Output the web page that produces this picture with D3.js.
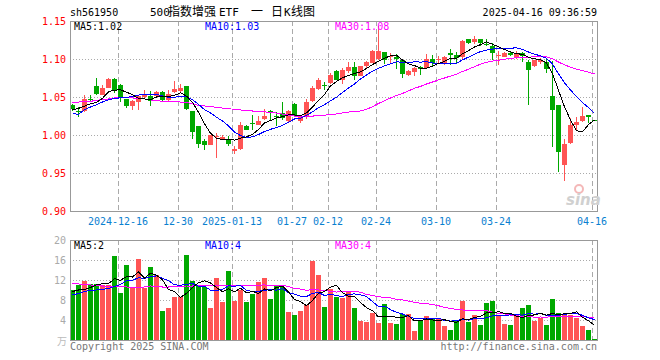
<!DOCTYPE html>
<html>
<head>
<meta charset="utf-8">
<script src="https://cdn.jsdelivr.net/npm/d3@7"></script>
<style>
  body { margin: 0; background: #fff; }
  svg text { font-family: "DejaVu Sans Mono", "Liberation Mono", monospace; font-size: 10px; }
  .cjk { font-family: "Noto Sans CJK SC", sans-serif; font-size: 12px; }
</style>
</head>
<body>
<svg id="chart" width="660" height="360"></svg>
<script>
/* ---------- data ---------- */
const dates = [
  "2024-12-04","2024-12-05","2024-12-06","2024-12-09","2024-12-10","2024-12-11","2024-12-12","2024-12-13",
  "2024-12-16","2024-12-17","2024-12-18","2024-12-19","2024-12-20","2024-12-23","2024-12-24","2024-12-25",
  "2024-12-26","2024-12-27","2024-12-30","2024-12-31",
  "2025-01-02","2025-01-03","2025-01-06","2025-01-07","2025-01-08","2025-01-09","2025-01-10","2025-01-13",
  "2025-01-14","2025-01-15","2025-01-16","2025-01-17","2025-01-20","2025-01-21","2025-01-22","2025-01-23",
  "2025-01-24","2025-01-27",
  "2025-02-05","2025-02-06","2025-02-07","2025-02-10","2025-02-11","2025-02-12","2025-02-13","2025-02-14",
  "2025-02-17","2025-02-18","2025-02-19","2025-02-20","2025-02-21","2025-02-24","2025-02-25","2025-02-26",
  "2025-02-27","2025-02-28",
  "2025-03-03","2025-03-04","2025-03-05","2025-03-06","2025-03-07","2025-03-10","2025-03-11","2025-03-12",
  "2025-03-13","2025-03-14","2025-03-17","2025-03-18","2025-03-19","2025-03-20","2025-03-21","2025-03-24",
  "2025-03-25","2025-03-26","2025-03-27","2025-03-28","2025-03-31",
  "2025-04-01","2025-04-02","2025-04-03","2025-04-07","2025-04-08","2025-04-09","2025-04-10","2025-04-11",
  "2025-04-14","2025-04-15","2025-04-16"
];

const open = [
  1.0399,1.0315,1.0310,1.0474,1.0649,1.0530,1.0618,1.0741,1.0662,1.0474,
  1.0386,1.0430,1.0500,1.0518,1.0509,1.0570,1.0456,1.0561,1.0579,1.0640,
  1.0311,1.0114,0.9917,0.9868,0.9974,0.9939,0.9952,0.9785,0.9816,1.0114,
  1.0158,1.0136,1.0215,1.0320,1.0250,1.0289,1.0180,1.0412,1.0189,1.0246,
  1.0443,1.0610,1.0654,1.0684,1.0846,1.0728,1.0846,1.0895,1.0781,1.0904,
  1.0947,1.1000,1.1092,1.1022,1.1026,1.0982,1.0794,1.0825,1.0890,1.0882,
  1.1000,1.0996,1.0947,1.1079,1.1057,1.1022,1.1268,1.1219,1.1268,1.1202,
  1.1175,1.1035,1.1026,1.1079,1.1013,1.1079,1.0956,1.0904,1.0956,1.0956,
  1.0518,1.0399,0.9601,0.9895,1.0136,1.0180,1.0268,1.0202
];
const high = [
  1.0405,1.0368,1.0530,1.0520,1.0754,1.0662,1.0745,1.0745,1.0671,1.0478,
  1.0465,1.0518,1.0596,1.0583,1.0575,1.0575,1.0596,1.0706,1.0671,1.0645,
  1.0315,1.0118,0.9952,1.0005,1.0026,0.9995,0.9987,0.9851,1.0175,1.0132,
  1.0268,1.0246,1.0342,1.0329,1.0298,1.0430,1.0333,1.0421,1.0268,1.0474,
  1.0640,1.0750,1.0693,1.0816,1.0851,1.0882,1.0956,1.0956,1.0908,1.0969,
  1.1114,1.1430,1.1096,1.1079,1.1070,1.0986,1.0860,1.0891,1.0904,1.1066,
  1.1057,1.1044,1.1035,1.1132,1.1088,1.1246,1.1268,1.1307,1.1268,1.1268,
  1.1210,1.1100,1.1092,1.1100,1.1100,1.1088,1.0991,1.0991,1.1013,1.1000,
  1.0969,1.0399,0.9947,1.0224,1.0232,1.0368,1.0268,1.0202
];
const low = [
  1.0310,1.0237,1.0305,1.0430,1.0526,1.0520,1.0615,1.0553,1.0430,1.0360,
  1.0333,1.0325,1.0474,1.0386,1.0505,1.0452,1.0443,1.0555,1.0553,1.0333,
  0.9947,0.9825,0.9807,0.9865,0.9693,0.9935,0.9851,0.9754,0.9798,1.0061,
  1.0070,1.0132,1.0202,1.0202,1.0123,1.0202,1.0158,1.0237,1.0158,1.0211,
  1.0439,1.0596,1.0596,1.0670,1.0724,1.0670,1.0816,1.0728,1.0776,1.0882,
  1.0943,1.0991,1.0934,1.0947,1.0868,1.0746,1.0772,1.0772,1.0785,1.0868,
  1.0904,1.0943,1.0925,1.0925,1.0934,1.1000,1.1202,1.1202,1.1175,1.1167,
  1.0991,1.0917,1.1022,1.1035,1.1000,1.0956,1.0399,1.0895,1.0939,1.0816,
  0.9842,0.9509,0.9390,0.9886,1.0057,1.0175,1.0158,1.0193
];
const close = [
  1.0342,1.0311,1.0478,1.0470,1.0535,1.0618,1.0741,1.0588,1.0487,1.0386,
  1.0443,1.0509,1.0544,1.0443,1.0561,1.0456,1.0535,1.0610,1.0618,1.0342,
  1.0035,0.9882,0.9864,1.0000,0.9991,0.9974,0.9882,0.9816,1.0132,1.0070,
  1.0149,1.0189,1.0254,1.0290,1.0246,1.0224,1.0311,1.0246,1.0232,1.0439,
  1.0618,1.0728,1.0649,1.0794,1.0728,1.0860,1.0890,1.0772,1.0904,1.0956,
  1.1110,1.1101,1.0991,1.1044,1.1000,1.0803,1.0838,1.0882,1.0868,1.1000,
  1.0947,1.1005,1.1026,1.1057,1.1013,1.1241,1.1211,1.1268,1.1211,1.1197,
  1.1079,1.1057,1.1079,1.1057,1.1079,1.1035,1.0860,1.0982,1.0991,1.0873,
  1.0325,0.9772,0.9886,1.0132,1.0171,1.0254,1.0237,1.0193
];
// volume, 万手
const volume = [
  10.0,11.0,11.9,11.2,11.2,11.0,11.0,16.9, 9.5,15.1,
  10.5,16.2,10.5,14.6,13.0, 5.8, 6.5, 8.6, 8.7,17.0,
  11.9,11.0,10.7, 6.5,12.4, 7.7,13.8, 7.9,10.0, 7.7,
   9.3,11.6,12.4, 8.2,11.0,10.7, 5.7, 5.0, 5.9, 7.0,
  15.9,13.1, 6.6,10.3, 8.7, 8.5, 9.8, 6.5, 3.9, 3.7,
   5.5, 3.5, 7.2, 3.5, 3.2, 5.2, 5.2, 1.9, 3.9, 4.8,
   4.3, 4.5, 2.8, 2.0, 4.0, 7.9, 3.7, 5.0, 3.0, 7.5,
   7.9, 5.0, 3.2, 3.0, 4.8, 6.4, 7.0, 3.9, 4.5, 3.0,
   8.2, 5.5, 5.0, 5.0, 4.5, 2.8, 2.0, 0.3
];

// moving-average values before enough bars exist on screen
const ma5Head  = [1.033,1.035,1.038,1.041];
const ma10Head = [1.0281,1.0272,1.0333,1.0368,1.0399,1.0434,1.0465,1.0478,1.0491];
const ma30Head = [
  1.0421,1.0434,1.0439,1.0443,1.0456,1.0465,1.0474,1.0487,1.0491,1.0491,
  1.0487,1.0482,1.0474,1.0461,1.0452,1.0443,1.0439,1.0439,1.0434,1.0430,
  1.0408,1.0390,1.0382,1.0373,1.0364,1.0355,1.0346,1.0338,1.0329
];
const volMa5Head  = [9.7,10.0,10.1,10.5];
const volMa10Head = [9.0,9.3,9.7,9.9,10.0,10.1,10.3,10.7,11.1];
const volMa30Head = [
  11.3,11.2,11.1,11.0,10.9,10.8,10.8,10.7,10.7,10.6,
  10.5,10.5,10.6,10.8,10.7,10.6,10.6,10.7,10.7,10.8,
  10.8,10.9,10.9,10.9,10.9,10.9,10.9,10.9,10.9
];

const priceTicks = [0.90, 0.95, 1.00, 1.05, 1.10, 1.15];
const volTicks = [4, 8, 12, 16, 20];
const dateTicks = ["2024-12-16","2024-12-30","2025-01-13","2025-01-27","2025-02-12",
                   "2025-02-24","2025-03-10","2025-03-24","2025-04-16"];
const dateTickLabels = ["2024-12-16","12-30","2025-01-13","01-27","02-12","02-24","03-10","03-24","04-16"];

const priceLegend = [["MA5:1.02", "#000", 74], ["MA10:1.03", "#0000ff", 205], ["MA30:1.08", "#ff00ff", 335]];
const volLegend   = [["MA5:2", "#000", 74], ["MA10:4", "#0000ff", 205], ["MA30:4", "#ff00ff", 335]];

/* ---------- helpers ---------- */
function movingAvg(vals, n, head){
  return vals.map((v, i) => i < head.length ? head[i] : d3.mean(vals.slice(i - n + 1, i + 1)));
}

const RED = "#ff5454", GREEN = "#00a800";
const L = 70, R = 598;
const P = { top: 21, bottom: 211 };
const V = { top: 240, bottom: 340 };

const svg = d3.select("#chart");

const x = d3.scaleBand().domain(dates).range([L, R]).padding(0);
const y = d3.scaleLinear().domain([0.90, 1.15]).range([P.bottom, P.top]);
const yv = d3.scaleLinear().domain([0, 20]).range([V.bottom, V.top]);

const bars = dates.map((d, i) => ({
  d, o: open[i], h: high[i], l: low[i], c: close[i], v: volume[i],
  up: close[i] >= open[i]
}));

/* ---------- grid ---------- */
function grid(yScale, ticks, top, bottom){
  const g = svg.append("g").attr("shape-rendering", "crispEdges");
  g.selectAll("line.h").data(ticks).join("line")
    .attr("x1", L).attr("x2", R)
    .attr("y1", t => Math.round(yScale(t)) + 0.5).attr("y2", t => Math.round(yScale(t)) + 0.5)
    .attr("stroke", "#aaa").attr("stroke-dasharray", "1,2");
  g.selectAll("line.v").data(dateTicks).join("line")
    .attr("x1", d => x(d) + 0.5).attr("x2", d => x(d) + 0.5)
    .attr("y1", top).attr("y2", bottom)
    .attr("stroke", "#aaa").attr("stroke-dasharray", "5,3");
}
grid(y, [0.95, 1.00, 1.05, 1.10], P.top, P.bottom);
grid(yv, [4, 8, 12, 16], V.top, V.bottom);

/* ---------- candles ---------- */
const cg = svg.append("g").attr("shape-rendering", "crispEdges");
cg.selectAll("line").data(bars).join("line")
  .attr("x1", d => x(d.d) + 2.5).attr("x2", d => x(d.d) + 2.5)
  .attr("y1", d => y(d.h)).attr("y2", d => y(d.l))
  .attr("stroke", d => d.up ? RED : GREEN);
cg.selectAll("rect").data(bars).join("rect")
  .attr("x", d => x(d.d)).attr("width", 5)
  .attr("y", d => y(Math.max(d.o, d.c)))
  .attr("height", d => Math.max(1, Math.abs(y(d.o) - y(d.c))))
  .attr("fill", d => d.up ? RED : GREEN);

/* ---------- volume ---------- */
svg.append("g").attr("shape-rendering", "crispEdges")
  .selectAll("rect").data(bars).join("rect")
  .attr("x", d => x(d.d)).attr("width", 5)
  .attr("y", d => yv(d.v)).attr("height", d => V.bottom - yv(d.v))
  .attr("fill", d => d.up ? RED : GREEN);

/* ---------- moving averages ---------- */
function maLine(vals, yScale, color){
  const line = d3.line().x((v, i) => x(dates[i]) + 2.5).y(v => yScale(v));
  svg.append("path").datum(vals)
    .attr("d", line).attr("fill", "none")
    .attr("stroke", color).attr("stroke-width", 1)
    .attr("shape-rendering", "crispEdges");
}
maLine(movingAvg(close, 30, ma30Head), y, "#ff00ff");
maLine(movingAvg(close, 10, ma10Head), y, "#0000ff");
maLine(movingAvg(close, 5, ma5Head), y, "#000");
maLine(movingAvg(volume, 30, volMa30Head), yv, "#ff00ff");
maLine(movingAvg(volume, 10, volMa10Head), yv, "#0000ff");
maLine(movingAvg(volume, 5, volMa5Head), yv, "#000");

/* ---------- frames ---------- */
svg.append("rect").attr("x", L + 0.5).attr("y", P.top + 0.5)
  .attr("width", R - L - 1).attr("height", P.bottom - P.top)
  .attr("fill", "none").attr("stroke", "#999").attr("shape-rendering", "crispEdges");
svg.append("rect").attr("x", L + 0.5).attr("y", V.top + 0.5)
  .attr("width", R - L - 1).attr("height", V.bottom - V.top)
  .attr("fill", "none").attr("stroke", "#999").attr("shape-rendering", "crispEdges");

/* ---------- axis labels ---------- */
svg.append("g").selectAll("text").data(priceTicks).join("text")
  .attr("x", 66).attr("y", t => y(t)).attr("dy", "0.35em")
  .attr("text-anchor", "end").attr("fill", "#ff0000")
  .text(t => t.toFixed(2));

svg.append("g").selectAll("text").data(volTicks).join("text")
  .attr("x", 66).attr("y", t => yv(t)).attr("dy", "0.35em")
  .attr("text-anchor", "end").attr("fill", "#aaa")
  .text(t => t);
svg.append("text").attr("class", "cjk").attr("x", 67).attr("y", 345)
  .attr("text-anchor", "end").attr("fill", "#bbb").style("font-size", "10px").text("万");

svg.append("g").selectAll("text").data(dateTicks).join("text")
  .attr("x", d => x(d)).attr("y", 225)
  .attr("text-anchor", "middle").attr("fill", "#0a80d0")
  .text((d, i) => dateTickLabels[i]);

/* ---------- legends ---------- */
svg.append("g").selectAll("text").data(priceLegend).join("text")
  .attr("x", d => d[2]).attr("y", 30).attr("fill", d => d[1]).text(d => d[0]);
svg.append("g").selectAll("text").data(volLegend).join("text")
  .attr("x", d => d[2]).attr("y", 249).attr("fill", d => d[1]).text(d => d[0]);

/* ---------- titles ---------- */
svg.append("text").attr("x", 70).attr("y", 16).attr("fill", "#000").text("sh561950");
const title = svg.append("text").attr("y", 16).attr("fill", "#000");
[["500", 150, false], ["指数增强", 168, true], ["ETF", 219, false], ["一", 251, true],
 ["日", 271, true], ["K", 284, false], ["线图", 291, true]].forEach(([t, px, cjk]) => {
  title.append("tspan").attr("x", px)
    .attr("class", cjk ? "cjk" : null)
    .style("font-size", cjk ? "12px" : "11px").text(t);
});
svg.append("text").attr("x", 597).attr("y", 16).attr("text-anchor", "end")
  .attr("fill", "#000").text("2025-04-16 09:36:59");

/* ---------- footer ---------- */
svg.append("text").attr("x", 70).attr("y", 350).attr("fill", "#777").text("Copyright 2025 SINA.COM");
svg.append("text").attr("x", 597).attr("y", 350).attr("text-anchor", "end")
  .attr("fill", "#777").text("http://finance.sina.com.cn");

/* ---------- watermark ---------- */
svg.append("circle").attr("cx", 579).attr("cy", 189).attr("r", 4)
  .attr("fill", "none").attr("stroke", "#f4b8b8").attr("stroke-width", 2);
svg.append("text").attr("x", 566).attr("y", 205)
  .style("font-family", "'DejaVu Sans', sans-serif").style("font-size", "15px")
  .style("font-style", "italic").style("font-weight", "bold")
  .attr("fill", "#d0d0d0").text("sina");
</script>
</body>
</html>
